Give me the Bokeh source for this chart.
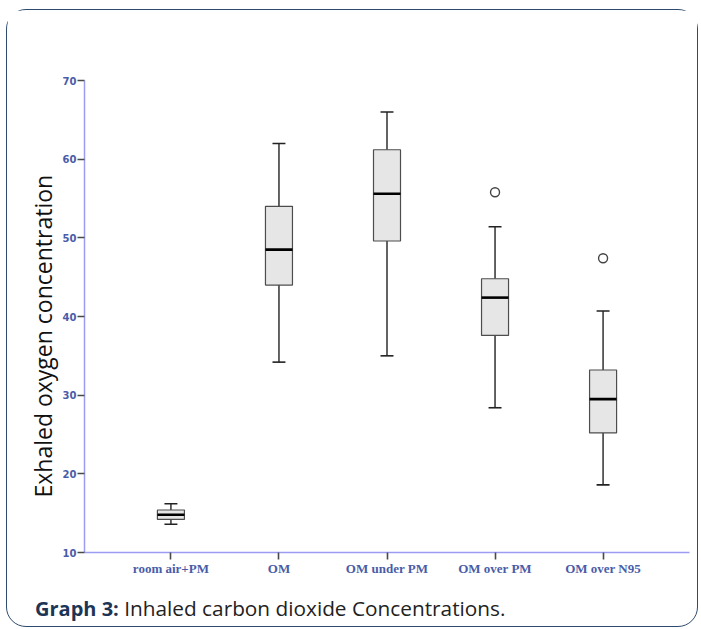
from bokeh.plotting import figure
from bokeh.models import FactorRange, Range1d, FixedTicker, Title, Div
from bokeh.layouts import column
from bokeh.transform import dodge
from bokeh.embed import file_html
from bokeh.resources import INLINE

cats = ["room air+PM", "OM", "OM under PM", "OM over PM", "OM over N95"]
lower = [13.6, 34.2, 35.0, 28.4, 18.6]
q1 = [14.2, 44.0, 49.6, 37.6, 25.2]
median = [14.8, 48.5, 55.6, 42.4, 29.5]
q3 = [15.4, 54.0, 61.2, 44.8, 33.2]
upper = [16.2, 62.0, 66.0, 51.4, 40.7]
out_cats = ["OM over PM", "OM over N95"]
out_vals = [55.8, 47.4]
y_ticks = [10, 20, 30, 40, 50, 60, 70]
y_title = "Exhaled oxygen concentration"
caption_bold = "Graph 3:"
caption_text = "Inhaled carbon dioxide Concentrations."

W, H = 690, 576
p = figure(
    x_range=FactorRange(*cats, range_padding=0.3, range_padding_units="absolute"),
    y_range=Range1d(10, 70),
    width=W, height=H,
    output_backend="svg", toolbar_location=None,
    min_border_left=77, min_border_right=8, min_border_top=70, min_border_bottom=34,
)
p.outline_line_color = None
p.xgrid.grid_line_color = None
p.ygrid.grid_line_color = None

BW = 0.25
CW = 0.12
p.segment(x0=cats, y0=q3, x1=cats, y1=upper, line_color="#222222", line_width=1.4)
p.segment(x0=cats, y0=q1, x1=cats, y1=lower, line_color="#222222", line_width=1.4)
p.segment(x0=dodge("x", -CW / 2, range=p.x_range), x1=dodge("x", CW / 2, range=p.x_range),
          y0="u", y1="u", source=dict(x=cats, u=upper), line_color="#222222", line_width=1.6)
p.segment(x0=dodge("x", -CW / 2, range=p.x_range), x1=dodge("x", CW / 2, range=p.x_range),
          y0="l", y1="l", source=dict(x=cats, l=lower), line_color="#222222", line_width=1.6)
p.vbar(x=cats, width=BW, bottom=q1, top=q3, fill_color="#e6e6e6",
       line_color="#4d4d4d", line_width=1.2)
p.segment(x0=dodge("x", -BW / 2, range=p.x_range), x1=dodge("x", BW / 2, range=p.x_range),
          y0="m", y1="m", source=dict(x=cats, m=median), line_color="#000000", line_width=2.6)
p.scatter(x=out_cats, y=out_vals, marker="circle", size=9, fill_color="white",
          line_color="#444444", line_width=1.4)

for ax in (p.xaxis[0], p.yaxis[0]):
    ax.axis_line_color = "#9c9cf2"
    ax.axis_line_width = 1.5
    ax.major_tick_line_color = "#4a4a4a"
    ax.major_tick_line_width = 1.6
    ax.major_tick_out = 7
    ax.major_tick_in = 0
    ax.minor_tick_line_color = None
    ax.major_label_text_color = "#4a5ca8"
    ax.major_label_text_font_style = "bold"

p.yaxis.ticker = FixedTicker(ticks=y_ticks)
p.yaxis.major_label_text_font = "DejaVu Sans"
p.yaxis.major_label_text_font_size = "10px"
p.yaxis.major_label_standoff = 1

p.xaxis.major_label_text_font = "Liberation Serif"
p.xaxis.major_label_text_font_size = "13px"
p.xaxis.major_label_standoff = 1

# y-axis title as a side title, starting a little above the frame bottom
p.add_layout(Title(text=y_title, align="left", offset=55, standoff=1,
                   text_font="Open Sans", text_font_size="23px",
                   text_font_style="normal", text_color="#111111"), "left")

cap = Div(
    text=(f'<span style="font-family:\'Open Sans\';font-size:20px;font-weight:bold;'
          f'color:#1c3557">{caption_bold}</span>'
          f'<span style="font-family:\'Open Sans\';font-size:20.8px;color:#222222"> '
          f'{caption_text}</span>'),
    width=600, height=27, margin=(9, 0, 0, 28),
    styles={"line-height": "27px", "white-space": "nowrap"},
)

layout = column(p, cap, spacing=0,
                styles={"border": "1.5px solid #2e4a6e", "border-radius": "20px",
                        "margin-left": "6px", "margin-top": "9px",
                        "padding-bottom": "4px"})

open("out.html", "w").write(file_html(layout, INLINE))
